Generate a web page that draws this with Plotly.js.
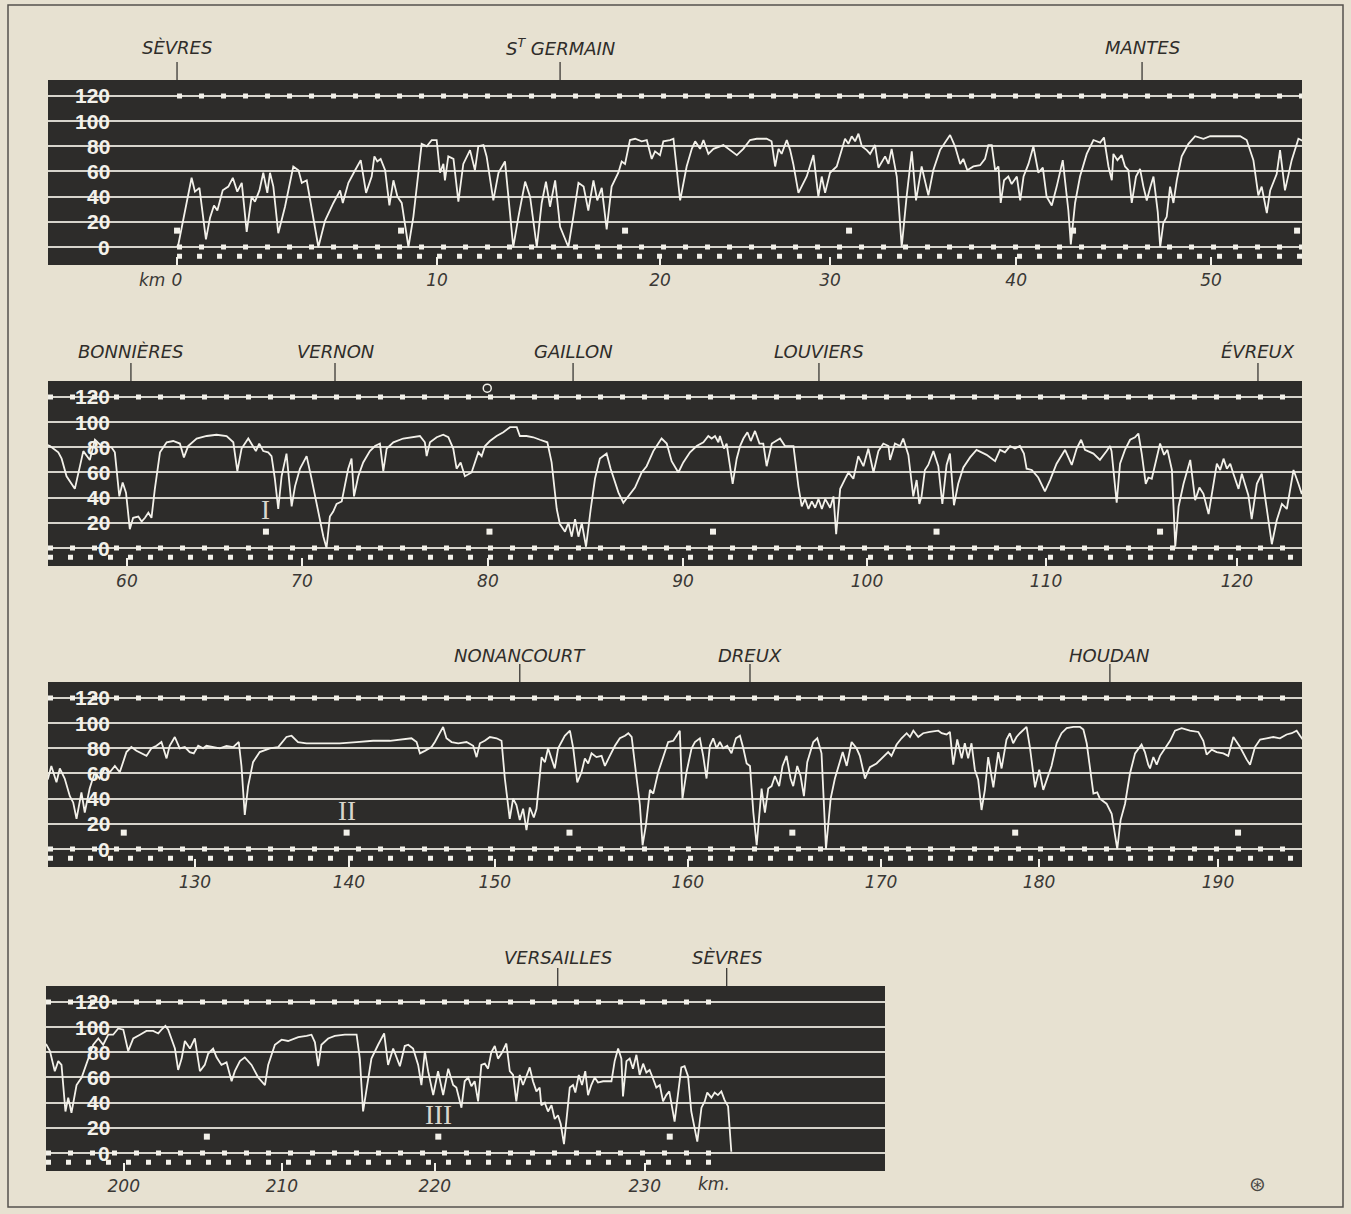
<!DOCTYPE html>
<html><head><meta charset="utf-8">
<script src="https://cdn.plot.ly/plotly-3.0.1.min.js"></script>
<style>html,body{margin:0;padding:0;background:#e7e1d1;}#chart{width:1351px;height:1214px;}</style>
</head><body><div id="chart"></div>
<script>
const panel1 = [[0,0],[0.06,2],[0.65,55],[0.8,44],[1.0,47],[1.29,6],[1.47,23],[1.65,33],[1.8,29],[2.04,45],[2.29,48],[2.49,55],[2.69,44],[2.89,51],[3.11,12],[3.33,40],[3.48,36],[3.68,45],[3.85,59],[4.03,43],[4.15,59],[4.3,48],[4.52,11],[4.82,32],[5.19,64],[5.42,61],[5.57,51],[5.79,53],[6.31,0],[6.61,21],[6.98,35],[7.28,45],[7.4,35],[7.65,51],[7.95,61],[8.2,69],[8.44,43],[8.69,56],[8.81,72],[8.94,68],[9.09,70],[9.29,61],[9.48,33],[9.66,53],[9.84,40],[10.03,35],[10.33,0],[10.55,24],[10.92,82],[11.15,80],[11.37,85],[11.59,85],[11.74,59],[11.89,66],[11.96,53],[12.11,72],[12.34,70],[12.56,36],[12.78,66],[13.08,77],[13.3,61],[13.45,80],[13.68,81],[13.82,72],[14.12,37],[14.35,59],[14.64,68],[15.01,0],[15.24,24],[15.54,52],[15.76,40],[16.06,0],[16.28,35],[16.47,52],[16.65,32],[16.88,53],[17.1,16],[17.47,0],[17.69,24],[17.92,51],[18.15,48],[18.36,29],[18.59,53],[18.76,37],[18.96,47],[19.18,14],[19.4,48],[19.7,59],[19.85,68],[20.0,66],[20.22,85],[20.45,86],[20.74,84],[20.97,85],[21.19,70],[21.34,76],[21.56,73],[21.71,84],[22.01,85],[22.16,86],[22.46,37],[22.75,64],[22.98,78],[23.13,84],[23.35,78],[23.5,85],[23.72,74],[23.95,78],[24.39,81],[24.69,77],[24.99,73],[25.28,78],[25.58,85],[25.88,86],[26.32,86],[26.54,84],[26.7,64],[26.85,78],[26.99,74],[27.22,85],[27.37,77],[27.51,66],[27.74,43],[28.11,56],[28.41,73],[28.63,40],[28.78,56],[28.93,43],[29.15,59],[29.45,64],[29.67,77],[29.82,86],[29.97,82],[30.12,88],[30.27,84],[30.42,90],[30.57,80],[30.79,77],[30.94,74],[31.16,81],[31.31,63],[31.61,72],[31.76,66],[31.9,78],[32.13,56],[32.35,0],[32.57,40],[32.8,76],[32.99,37],[33.24,64],[33.54,41],[33.76,61],[34.06,77],[34.51,89],[34.73,80],[34.96,66],[35.1,70],[35.28,61],[35.55,64],[35.85,65],[36.07,70],[36.22,81],[36.37,81],[36.52,61],[36.67,64],[36.77,35],[36.92,53],[37.11,56],[37.26,50],[37.49,56],[37.64,37],[37.79,56],[38.01,66],[38.23,80],[38.45,59],[38.65,63],[38.82,40],[39.05,33],[39.27,48],[39.54,69],[39.79,29],[39.9,2],[40.09,35],[40.31,56],[40.61,74],[40.91,85],[41.21,83],[41.38,87],[41.58,64],[41.73,53],[41.8,74],[41.98,69],[42.17,73],[42.32,64],[42.47,61],[42.62,35],[42.81,56],[42.99,62],[43.14,48],[43.29,37],[43.44,47],[43.59,56],[43.78,28],[43.89,0],[44.03,19],[44.18,24],[44.33,48],[44.48,35],[44.63,53],[44.85,72],[45.15,82],[45.45,88],[45.82,86],[46.12,88],[46.56,88],[47.01,88],[47.46,88],[47.75,85],[48.05,69],[48.27,41],[48.42,48],[48.65,27],[48.8,45],[49.09,58],[49.24,77],[49.46,45],[49.76,69],[50.06,86],[50.3,84]];
const panel2 = [[50.2,82],[50.34,81],[50.71,76],[50.86,71],[51.08,57],[51.45,47],[51.83,77],[52.12,70],[52.35,86],[52.65,81],[53.09,80],[53.24,76],[53.44,41],[53.59,52],[53.74,44],[53.91,15],[54.06,24],[54.29,25],[54.44,21],[54.59,24],[54.74,28],[54.88,24],[55.03,47],[55.26,76],[55.56,84],[55.85,85],[56.15,83],[56.33,72],[56.52,81],[56.9,87],[57.35,89],[57.79,90],[58.24,89],[58.54,84],[58.72,61],[58.91,79],[59.21,87],[59.43,81],[59.55,77],[59.7,83],[59.88,77],[60.1,76],[60.25,73],[60.4,55],[60.55,31],[60.7,57],[60.92,75],[61.15,33],[61.3,49],[61.52,63],[61.82,73],[62.04,55],[62.34,28],[62.57,9],[62.71,0],[62.86,25],[63.01,29],[63.16,35],[63.39,37],[63.53,49],[63.68,63],[63.83,71],[63.94,41],[64.13,57],[64.35,68],[64.65,77],[64.88,81],[65.1,83],[65.25,61],[65.4,79],[65.7,84],[66.14,87],[66.59,88],[66.89,89],[67.11,84],[67.19,73],[67.34,84],[67.64,88],[67.93,90],[68.16,88],[68.38,79],[68.53,63],[68.71,68],[68.9,57],[69.2,60],[69.5,76],[69.65,73],[69.8,81],[70.02,85],[70.32,89],[70.62,92],[70.92,96],[71.22,96],[71.36,89],[71.66,89],[71.96,88],[72.26,86],[72.59,84],[72.78,68],[73.01,31],[73.15,19],[73.38,13],[73.53,20],[73.68,9],[73.83,23],[73.98,9],[74.13,20],[74.32,1],[74.53,31],[74.72,55],[74.94,71],[75.24,75],[75.42,63],[75.57,55],[75.77,44],[75.99,36],[76.21,41],[76.51,48],[76.81,60],[77.03,65],[77.33,77],[77.7,87],[77.93,83],[78.15,69],[78.45,60],[78.67,68],[78.97,76],[79.27,81],[79.57,84],[79.79,89],[79.94,87],[80.09,89],[80.24,84],[80.31,89],[80.49,79],[80.61,83],[80.76,65],[80.88,51],[81.06,71],[81.21,81],[81.36,87],[81.54,92],[81.69,85],[81.88,93],[82.08,83],[82.25,83],[82.4,65],[82.63,83],[83.0,87],[83.22,81],[83.6,81],[83.82,49],[83.97,33],[84.12,39],[84.27,31],[84.42,37],[84.57,32],[84.72,39],[84.87,31],[85.02,39],[85.24,32],[85.39,41],[85.51,11],[85.69,47],[85.91,55],[86.06,60],[86.28,55],[86.5,73],[86.73,65],[86.95,79],[87.18,60],[87.4,77],[87.62,83],[87.85,81],[87.92,70],[88.14,83],[88.37,81],[88.51,87],[88.74,74],[88.96,41],[89.11,54],[89.23,35],[89.33,41],[89.48,62],[89.63,66],[89.86,77],[90.08,65],[90.26,35],[90.45,66],[90.6,75],[90.78,34],[90.97,51],[91.2,64],[91.5,72],[91.79,78],[92.24,74],[92.62,69],[92.84,78],[93.06,76],[93.29,81],[93.51,79],[93.73,81],[93.91,75],[94.03,63],[94.26,62],[94.55,56],[94.85,45],[95.08,54],[95.37,67],[95.75,78],[96.05,66],[96.27,79],[96.47,86],[96.64,78],[97.02,75],[97.31,70],[97.61,77],[97.76,81],[97.83,77],[98.06,36],[98.21,67],[98.43,78],[98.66,86],[98.88,88],[99.03,91],[99.18,75],[99.36,51],[99.48,56],[99.63,55],[99.78,67],[100.0,83],[100.18,74],[100.33,78],[100.53,62],[100.68,1],[100.83,33],[101.05,51],[101.35,70],[101.57,38],[101.76,48],[101.94,43],[102.17,27],[102.39,51],[102.54,67],[102.69,62],[102.84,71],[102.99,63],[103.14,67],[103.28,59],[103.51,47],[103.66,59],[103.81,51],[103.95,42],[104.1,23],[104.33,51],[104.55,59],[104.77,30],[105.0,3],[105.22,22],[105.45,35],[105.67,31],[105.97,62],[106.19,51],[106.34,43],[106.45,50]];
const panel3 = [[106.45,52],[106.6,56],[106.75,66],[106.98,53],[107.13,64],[107.35,56],[107.58,42],[107.73,37],[107.88,24],[108.1,45],[108.25,29],[108.47,48],[108.7,61],[108.92,56],[109.15,64],[109.37,61],[109.6,66],[109.82,61],[110.12,77],[110.34,81],[110.57,78],[110.79,76],[111.02,74],[111.24,80],[111.47,82],[111.69,85],[111.92,72],[112.06,82],[112.29,89],[112.51,80],[112.74,81],[112.96,77],[113.14,76],[113.34,82],[113.56,80],[113.71,82],[114.01,81],[114.31,80],[114.61,82],[114.91,81],[115.16,85],[115.28,66],[115.43,27],[115.58,50],[115.8,69],[116.1,77],[116.55,80],[116.93,81],[117.3,89],[117.53,90],[117.82,85],[118.2,84],[118.95,84],[119.69,84],[120.44,85],[121.19,86],[121.94,86],[122.69,88],[122.91,88],[123.14,85],[123.29,76],[123.51,78],[123.81,81],[123.96,85],[124.11,90],[124.33,97],[124.48,88],[124.71,85],[125.01,84],[125.38,85],[125.68,82],[125.83,73],[125.98,84],[126.2,86],[126.43,89],[126.73,88],[126.95,86],[127.1,56],[127.32,24],[127.47,40],[127.62,35],[127.77,23],[127.92,32],[128.07,15],[128.22,33],[128.4,25],[128.52,32],[128.75,73],[128.9,69],[129.04,80],[129.19,72],[129.34,64],[129.49,80],[129.79,90],[130.02,94],[130.17,80],[130.35,53],[130.54,61],[130.69,72],[130.84,68],[130.99,76],[131.21,73],[131.44,74],[131.59,66],[131.81,74],[132.04,82],[132.26,88],[132.49,90],[132.64,92],[132.79,89],[132.98,61],[133.16,35],[133.28,3],[133.43,19],[133.61,47],[133.76,44],[133.98,61],[134.24,74],[134.43,85],[134.66,86],[134.8,90],[134.95,94],[135.07,40],[135.25,61],[135.48,80],[135.63,85],[135.85,88],[136.0,74],[136.15,56],[136.3,82],[136.45,88],[136.6,80],[136.75,85],[136.9,80],[137.08,82],[137.27,76],[137.47,88],[137.65,90],[137.8,80],[137.95,68],[138.1,66],[138.25,29],[138.4,3],[138.62,48],[138.77,29],[138.92,48],[139.07,50],[139.22,58],[139.41,50],[139.56,66],[139.74,74],[139.92,56],[140.04,50],[140.22,66],[140.37,58],[140.52,42],[140.67,69],[140.94,85],[141.12,88],[141.31,76],[141.51,0],[141.72,40],[141.91,56],[142.06,65],[142.26,77],[142.44,66],[142.66,85],[142.88,80],[143.03,74],[143.26,56],[143.48,65],[143.78,68],[144.08,73],[144.3,77],[144.45,74],[144.68,83],[144.9,88],[145.13,92],[145.28,89],[145.43,94],[145.65,89],[145.87,92],[146.17,93],[146.55,94],[146.7,92],[146.92,91],[147.07,93],[147.22,67],[147.4,87],[147.6,72],[147.74,84],[147.89,72],[148.04,84],[148.19,63],[148.34,55],[148.49,31],[148.64,47],[148.79,73],[149.02,49],[149.24,77],[149.39,64],[149.61,87],[149.76,92],[149.91,84],[150.06,89],[150.21,92],[150.51,97],[150.66,81],[150.89,49],[151.08,63],[151.26,47],[151.41,55],[151.63,66],[151.86,84],[152.08,92],[152.31,96],[152.61,97],[152.91,97],[153.06,95],[153.21,84],[153.36,63],[153.51,44],[153.68,45],[153.8,40],[154.1,36],[154.33,28],[154.48,11],[154.58,0],[154.73,23],[154.93,36],[155.15,60],[155.38,76],[155.67,83],[155.82,77],[155.97,67],[156.05,64],[156.2,73],[156.35,67],[156.5,74],[156.72,80],[156.95,86],[157.17,94],[157.47,96],[157.84,94],[158.22,93],[158.44,86],[158.59,75],[158.82,79],[159.04,77],[159.34,76],[159.56,74],[159.79,89],[160.09,81],[160.39,71],[160.54,67],[160.76,81],[160.99,87],[161.28,88],[161.58,89],[161.88,88],[162.18,91],[162.41,92],[162.63,94],[162.78,90],[162.95,86]];
const panel4 = [[162.95,88],[163.07,86],[163.22,81],[163.43,65],[163.58,73],[163.72,70],[163.89,33],[164.01,44],[164.15,32],[164.37,54],[164.59,60],[164.87,75],[165.09,86],[165.31,91],[165.52,86],[165.74,94],[165.95,94],[166.17,99],[166.39,98],[166.6,81],[166.82,91],[167.11,94],[167.39,97],[167.68,97],[167.9,95],[168.04,98],[168.21,101],[168.33,98],[168.47,91],[168.62,83],[168.76,66],[168.91,75],[169.05,89],[169.27,83],[169.48,91],[169.7,65],[169.91,70],[170.06,79],[170.27,83],[170.42,76],[170.63,70],[170.85,72],[171.07,57],[171.21,65],[171.43,73],[171.64,76],[171.93,70],[172.22,60],[172.51,54],[172.65,70],[172.94,86],[173.23,90],[173.51,89],[173.95,92],[174.31,93],[174.52,94],[174.67,88],[174.81,69],[174.95,86],[175.24,91],[175.53,93],[175.96,94],[176.47,94],[176.61,75],[176.75,33],[176.9,52],[177.11,75],[177.4,86],[177.66,95],[177.83,70],[178.05,83],[178.34,69],[178.55,85],[178.7,86],[178.91,83],[179.13,70],[179.27,54],[179.42,81],[179.56,65],[179.78,46],[179.99,65],[180.21,46],[180.43,67],[180.64,54],[180.78,52],[181.0,36],[181.14,57],[181.29,60],[181.43,53],[181.57,57],[181.72,41],[181.86,70],[182.01,71],[182.15,67],[182.29,80],[182.44,85],[182.58,75],[182.73,79],[182.94,87],[183.09,65],[183.23,62],[183.37,41],[183.52,62],[183.66,54],[183.81,62],[183.95,68],[184.09,57],[184.24,49],[184.38,52],[184.45,38],[184.6,40],[184.74,33],[184.89,38],[185.03,27],[185.17,30],[185.29,23],[185.43,7],[185.53,23],[185.68,52],[185.82,54],[185.92,48],[186.07,62],[186.21,54],[186.35,65],[186.47,46],[186.61,54],[186.76,60],[186.9,56],[187.12,57],[187.33,57],[187.48,57],[187.62,73],[187.77,83],[187.91,75],[187.98,45],[188.13,73],[188.27,75],[188.41,67],[188.56,78],[188.7,62],[188.85,71],[188.99,64],[189.13,66],[189.28,59],[189.42,52],[189.57,54],[189.71,41],[189.85,46],[189.98,49],[190.21,25],[190.36,49],[190.5,68],[190.64,69],[190.79,61],[190.93,33],[191.08,20],[191.19,9],[191.37,36],[191.51,41],[191.62,48],[191.8,44],[191.94,48],[192.08,46],[192.23,49],[192.37,42],[192.52,37],[192.66,1]];

const speedTicks = [0, 20, 40, 60, 80, 100, 120];
const kmLabels = [0,10,20,30,40,50,60,70,80,90,100,110,120,130,140,150,160,170,180,190,200,210,220,230];
const kmTimes = [0,11.61,21.56,29.15,37.46,46.16,53.78,61.61,69.93,78.66,86.89,94.9,103.44,113.19,120.1,126.65,135.31,143.98,151.07,159.1,166.41,173.24,179.85,188.92];
const townNames = ['SÈVRES','S<sup>T</sup> GERMAIN','MANTES','BONNIÈRES','VERNON','GAILLON','LOUVIERS','ÉVREUX','NONANCOURT','DREUX','HOUDAN','VERSAILLES','SÈVRES'];
const townTimes = [0,17.1,43.08,53.96,63.09,73.74,84.74,104.38,127.77,138.1,154.25,185.16,192.46];
const tenMinuteMarks = [0,10,20,30,40,50,60,70,80,90,100,110,120,130,140,150,160,170,180,190];
const tenMinuteLevel = 13;
const hourNumerals = ['I','II','III'];
const hourTimes = [60,120,180];
const hourLevel = 30;
const circleMarkTime = [69.9];
const circleMarkSpeed = [127];

// ---------- layout geometry (pixels) ----------
const W = 1351, H = 1214;
const panels = [
  {data: panel1, range: [-5.76, 50.22], px: [48, 1302], py: [80, 265], lab: 33, dots: [0, 50.22]},
  {data: panel2, range: [50.25, 106.35], px: [48, 1302], py: [381, 566], lab: 30, dots: [50.25, 106.35]},
  {data: panel3, range: [106.6, 162.87], px: [48, 1302], py: [682, 867], lab: 27, dots: [106.6, 162.87]},
  {data: panel4, range: [163.05, 199.3], px: [46, 885], py: [986, 1171], lab: 29, dots: [163.05, 192.2]}
];
const yRange = [-14.3, 132.7];
const ink = '#2f2d2a', chalk = '#f3f1ea', gridCol = '#d6d4cc';
const labelFont = {family: 'DejaVu Sans, Liberation Sans, sans-serif', size: 18, color: ink, style: 'italic'};
const tickFont = {family: 'DejaVu Sans, Liberation Sans, sans-serif', size: 17, color: '#3a3835', style: 'italic'};
const speedFont = {family: 'Liberation Sans, Arial, sans-serif', size: 21, color: chalk, weight: 'bold'};

function panelOf(t) {
  for (let i = 0; i < panels.length; i++) {
    const r = panels[i].range;
    if (t >= r[0] && t < r[1]) return i;
  }
  return panels.length - 1;
}
const ax = i => (i === 0 ? '' : String(i + 1));
const py2paper = p => 1 - p / H;

const traces = [], shapes = [], annotations = [];
const layout = {
  width: W, height: H, margin: {l: 0, r: 0, t: 0, b: 0},
  paper_bgcolor: '#e7e1d1', plot_bgcolor: '#2d2c2a', showlegend: false
};

panels.forEach((p, i) => {
  const xa = 'x' + ax(i), ya = 'y' + ax(i);
  const tv = [], tt = [];
  kmTimes.forEach((t, k) => {
    if (panelOf(t) === i) { tv.push(t); tt.push(String(kmLabels[k])); }
  });
  layout['xaxis' + ax(i)] = {
    domain: [p.px[0] / W, p.px[1] / W], range: p.range, anchor: ya,
    showgrid: false, zeroline: false, showline: false,
    tickvals: tv, ticktext: tt, ticks: 'inside', ticklen: 8, tickwidth: 2, tickcolor: chalk,
    tickfont: tickFont, ticklabelstandoff: 3, fixedrange: true
  };
  layout['yaxis' + ax(i)] = {
    domain: [py2paper(p.py[1]), py2paper(p.py[0])], range: yRange, anchor: xa,
    tickvals: speedTicks, showticklabels: false, ticks: '',
    showgrid: true, gridcolor: gridCol, gridwidth: 2, zeroline: false, showline: false, fixedrange: true
  };
  traces.push({
    type: 'scatter', mode: 'lines', xaxis: xa, yaxis: ya,
    x: p.data.map(d => d[0]), y: p.data.map(d => d[1]),
    line: {color: chalk, width: 1.8}, hoverinfo: 'skip'
  });
  const marks = tenMinuteMarks.filter(t => panelOf(t) === i && t >= p.range[0] && t <= p.range[1]);
  traces.push({
    type: 'scatter', mode: 'markers', xaxis: xa, yaxis: ya,
    x: marks, y: marks.map(() => tenMinuteLevel),
    marker: {color: chalk, size: 6, symbol: 'square'}, hoverinfo: 'skip'
  });
  [[120, '5px,17px'], [0, '5px,17px'], [-7.3, '5px,15px']].forEach(([yv, dash]) => {
    shapes.push({type: 'line', xref: xa, yref: ya, x0: p.dots[0], x1: p.dots[1], y0: yv, y1: yv,
      line: {color: chalk, width: 5, dash: dash}, layer: 'above'});
  });
  speedTicks.forEach(v => {
    annotations.push({xref: 'paper', yref: ya, x: 112 / W, y: v, xanchor: 'right', yanchor: 'middle',
      text: String(v), showarrow: false, font: speedFont});
  });
  townTimes.forEach((t, k) => {
    if (panelOf(t) !== i) return;
    annotations.push({xref: xa, yref: 'paper', x: t, y: py2paper(p.py[0] - p.lab), xanchor: 'center', yanchor: 'middle',
      text: townNames[k], showarrow: false, font: labelFont});
    shapes.push({type: 'line', xref: xa, yref: 'paper', x0: t, x1: t,
      y0: py2paper(p.py[0]), y1: py2paper(p.py[0] - 18), line: {color: '#3a3835', width: 1.3}});
  });
  hourTimes.forEach((t, k) => {
    if (panelOf(t) !== i) return;
    annotations.push({xref: xa, yref: ya, x: t, y: hourLevel, text: hourNumerals[k], showarrow: false,
      font: {family: 'Liberation Serif, DejaVu Serif, serif', size: 27, color: '#d9d6cc'}});
  });
});

traces.push({type: 'scatter', mode: 'markers', xaxis: 'x2', yaxis: 'y2', x: circleMarkTime, y: circleMarkSpeed,
  marker: {symbol: 'circle-open', size: 8, color: chalk, line: {width: 1.5}}, hoverinfo: 'skip'});

// "km" before the first distance label and "km." after the last one
annotations.push({xref: 'x', yref: 'paper', x: kmTimes[0], y: py2paper(280), xanchor: 'right', yanchor: 'middle',
  xshift: -10, text: 'km', showarrow: false, font: tickFont});
annotations.push({xref: 'x4', yref: 'paper', x: 191.9, y: py2paper(1184), xanchor: 'center', yanchor: 'middle',
  text: 'km.', showarrow: false, font: tickFont});
annotations.push({xref: 'paper', yref: 'paper', x: 1257 / W, y: py2paper(1184), xanchor: 'center', yanchor: 'middle',
  text: '⊛', showarrow: false, font: {family: 'DejaVu Sans, sans-serif', size: 20, color: '#4a4844'}});
shapes.push({type: 'rect', xref: 'paper', yref: 'paper', x0: 8 / W, x1: 1343 / W, y0: py2paper(1207), y1: py2paper(5),
  line: {color: '#55524d', width: 1.5}});

layout.shapes = shapes;
layout.annotations = annotations;
Plotly.newPlot('chart', traces, layout, {staticPlot: true, displayModeBar: false});
</script></body></html>
